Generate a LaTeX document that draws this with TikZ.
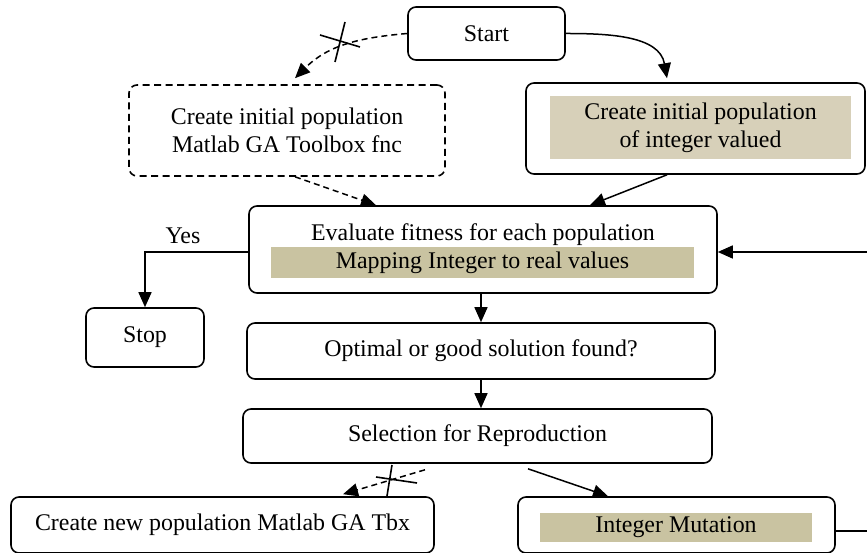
\documentclass[tikz,border=0pt]{standalone}
\usepackage{fontspec}
\setmainfont{Liberation Serif}
\usetikzlibrary{arrows.meta,calc}

\definecolor{khakilight}{HTML}{D7D0B9}
\definecolor{khakidark}{HTML}{C9C3A1}

\begin{document}
\begin{tikzpicture}[
    box/.style={draw, line width=0.032cm, rounded corners=0.16cm, align=center, inner sep=0pt},
    dashbox/.style={box, dash pattern=on 0.14cm off 0.09cm},
    strip/.style={fill=#1, inner sep=0pt, align=center},
    conn/.style={line width=0.03cm, -{Triangle[length=0.30cm,width=0.26cm]}},
    skip/.style={conn, dash pattern=on 0.12cm off 0.08cm},
    crossmark/.style={line width=0.032cm}
]
    \useasboundingbox (0,0) rectangle (17.340000,11.060000);
    \clip (0,0) rectangle (17.340000,11.060000);
    {\fontsize{13.6}{16}\selectfont

    % Start
    \node [box, minimum width=3.14cm, minimum height=1.06cm] (start) at (9.730000,10.390000) {Start};%

    % Initial population (toolbox, not used)
    \node [dashbox, minimum width=6.32cm, minimum height=1.82cm] (initml) at (5.740000,8.450000) {Create initial population\\Matlab GA Toolbox fnc};%

    % Initial population (integer)
    \node [box, minimum width=6.78cm, minimum height=1.82cm] (initint) at (13.910000,8.490000) {};%
    \node [strip=khakilight, minimum width=6.02cm, minimum height=1.26cm] (initinttxt) at (14.010000,8.510000) {Create initial population\\of integer valued};%

    % Fitness evaluation
    \node [box, minimum width=9.36cm, minimum height=1.74cm] (eval) at (9.660000,6.070000) {};%
    \node (evaltxt) at (9.660000,6.360000) {Evaluate fitness for each population};%
    \node [strip=khakidark, minimum width=8.46cm, minimum height=0.62cm] (maptxt) at (9.650000,5.810000) {Mapping Integer to real values};%

    % Stop
    \node [box, minimum width=2.36cm, minimum height=1.18cm] (stop) at (2.900000,4.310000) {Stop};%
    \node (yes) at (3.660000,6.340000) {Yes};%

    % Termination test
    \node [box, minimum width=9.36cm, minimum height=1.12cm] (optim) at (9.620000,4.040000) {Optimal or good solution found?};%

    % Selection
    \node [box, minimum width=9.38cm, minimum height=1.08cm] (select) at (9.550000,2.340000) {Selection for Reproduction};%

    % New population (toolbox, not used)
    \node [box, minimum width=8.46cm, minimum height=1.12cm] (newml) at (4.450000,0.560000) {Create new population Matlab GA Tbx};%

    % Mutation
    \node [box, minimum width=6.34cm, minimum height=1.12cm] (mutate) at (13.530000,0.560000) {};%
    \node [strip=khakidark, minimum width=5.44cm, minimum height=0.58cm] (mutatetxt) at (13.520000,0.510000) {Integer Mutation};%
    }

    % Start -> initial populations
    \draw [skip] (start.west) to [out=185, in=45] ($(initml.north)+(0.16,0.12)$);%
    \draw [crossmark] (6.400000,10.360000) -- (7.200000,10.120000);%
    \draw [crossmark] (6.900000,10.620000) -- (6.700000,9.820000);%
    \draw [conn] (start.east) to [out=0, in=100] ($(initint.north)+(-0.57,0.08)$);%

    % Initial populations -> evaluation
    \draw [skip] ($(initml.south)+(0.16,0)$) -- ($(eval.north)+(-2.14,0)$);%
    \draw [conn] ($(initint.south)+(-0.57,0)$) -- ($(eval.north)+(2.14,0)$);%

    % Evaluation -> stop / test
    \draw [conn] ($(eval.west)+(0,-0.05)$) -| (stop.north);%
    \draw [conn] (optim.north |- eval.south) -- (optim.north);%
    \draw [conn] (optim.south) -- (optim.south |- select.north);%

    % Selection -> new population
    \draw [skip] ($(select.south)+(-1.05,-0.12)$) -- ($(newml.north)+(2.41,0.04)$);%
    \draw [crossmark] (7.840000,1.760000) -- (7.740000,1.140000);%
    \draw [crossmark] (7.520000,1.520000) -- (8.340000,1.400000);%
    \draw [conn] ($(select.south)+(1.01,-0.10)$) -- ($(mutate.north)+(-1.37,0)$);%

    % Mutation -> back to evaluation
    \coordinate (loopcorner) at (17.600000,0.440000);%
    \draw [conn] ($(mutate.east)+(0,-0.12)$) -- (loopcorner) |- ($(eval.east)+(0,-0.05)$);%
\end{tikzpicture}
\end{document}
